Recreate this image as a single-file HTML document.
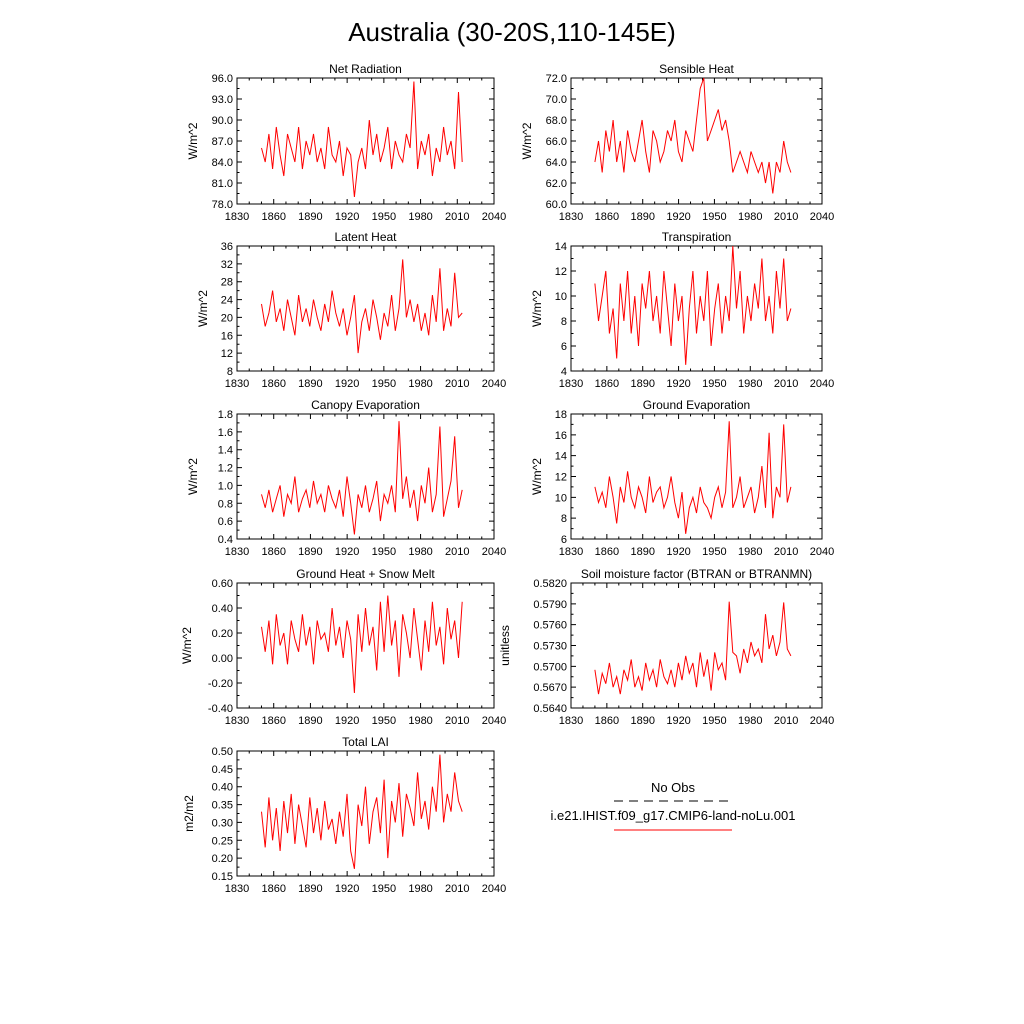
<!DOCTYPE html>
<html><head><meta charset="utf-8"><style>
body{margin:0;background:#fff;}
svg{display:block;font-family:"Liberation Sans",sans-serif;}
</style></head><body>
<svg id="chart" width="1024" height="1024" viewBox="0 0 1024 1024">
<text x="512" y="41" font-size="26" text-anchor="middle">Australia (30-20S,110-145E)</text>
<g>
<text x="673" y="792" font-size="13" text-anchor="middle">No Obs</text>
<line x1="614" y1="801" x2="732" y2="801" stroke="#000" stroke-width="1" stroke-dasharray="9,6"/>
<text x="673" y="820" font-size="13" text-anchor="middle">i.e21.IHIST.f09_g17.CMIP6-land-noLu.001</text>
<line x1="614" y1="830" x2="732" y2="830" stroke="#f00" stroke-width="1"/>
</g>
</svg>
<script>
const xTicks=[1830,1860,1890,1920,1950,1980,2010,2040];
const startYear=1850, endYear=2014;
const netRad=[86,84,88,83,89,85,82,88,86,84,89,83,87,85,88,84,86,83,89,85,84,87,82,86,85,79,84,86,83,90,85,88,84,86,89,83,87,85,84,88,86,95.5,83,87,85,88,82,86,84,89,85,87,83,94,84];
const sensHeat=[64,66,63,67,65,68,64,66,63,67,65,64,66,68,65,63,67,66,64,65,67,66,68,65,64,67,66,65,68,71,72,66,67,68,69,67,68,66,63,64,65,64,63,65,64,63,64,62,64,61,64,63,66,64,63];
const latHeat=[23,18,21,26,19,22,17,24,20,16,25,19,22,18,24,20,17,23,19,26,21,18,22,16,20,25,12,19,22,17,24,20,15,21,18,25,17,22,33,20,24,19,23,17,21,16,25,19,31,17,22,18,30,20,21];
const transp=[11,8,10,12,7,9,5,11,8,12,7,10,6,11,9,12,8,10,7,12,9,6,11,8,10,4.5,9,12,7,10,8,12,6,9,11,7,10,8,14,9,12,7,10,8,11,9,13,8,10,7,12,9,13,8,9];
const canEvap=[.9,.75,.95,.7,.85,1.0,.65,.9,.8,1.1,.7,.85,.95,.75,1.05,.8,.9,.7,1.0,.85,.75,.95,.65,1.1,.8,.45,.9,.75,1.0,.7,.85,1.05,.6,.9,.8,1.0,.7,1.72,.85,1.1,.75,.95,.6,1.0,.8,1.2,.7,.9,1.66,.65,.85,1.05,1.55,.75,.95];
const grdEvap=[11,9.5,10.5,9,12,10,7.5,11,9.5,12.5,10,9,11,10,8.5,12,9.5,10.5,11,9,10,12,9.5,8,10.5,6.5,9,10,8.5,11,9.5,9,8,10,11,9,10.5,17.3,9,10,12,9,10,11,8.5,10,13,9,16.2,8,11,10,17,9.5,11];
const grdHeat=[.25,.05,.3,-.05,.35,.1,.2,-.05,.3,.15,.05,.35,.1,.25,-.05,.3,.15,.2,.05,.4,.1,.25,0,.3,.15,-.28,.35,.05,.4,.1,.25,-.1,.45,.05,.5,.1,.3,-.15,.35,.2,0,.4,.15,-.1,.3,.05,.45,.1,.25,-.05,.4,.15,.3,0,.45];
const soilMoist=[.5695,.566,.569,.5675,.5705,.567,.5685,.566,.5695,.568,.571,.567,.5685,.5665,.5705,.568,.5695,.567,.571,.5685,.5675,.5695,.567,.5705,.568,.5715,.569,.5705,.567,.572,.5685,.571,.5665,.572,.5695,.5705,.568,.5793,.572,.5715,.569,.5725,.5705,.5735,.5715,.5725,.5705,.5775,.5725,.5745,.5715,.5735,.5792,.5725,.5715];
const totalLai=[.33,.23,.37,.25,.34,.22,.36,.27,.38,.24,.35,.29,.23,.37,.27,.34,.25,.36,.28,.31,.24,.33,.26,.38,.22,.17,.35,.29,.4,.24,.33,.37,.27,.42,.2,.36,.3,.41,.26,.38,.34,.29,.44,.31,.36,.28,.4,.33,.49,.3,.38,.33,.44,.36,.33];

const panels=[
 {name:'net-radiation',title:'Net Radiation',ylab:'W/m^2',vals:netRad,yt:[78,81,84,87,90,93,96],dec:1,x0:237,x1:494,y0:78,y1:204,yo:40},
 {name:'sensible-heat',title:'Sensible Heat',ylab:'W/m^2',vals:sensHeat,yt:[60,62,64,66,68,70,72],dec:1,x0:571,x1:822,y0:78,y1:204,yo:40},
 {name:'latent-heat',title:'Latent Heat',ylab:'W/m^2',vals:latHeat,yt:[8,12,16,20,24,28,32,36],dec:0,x0:237,x1:494,y0:246,y1:371,yo:30},
 {name:'transpiration',title:'Transpiration',ylab:'W/m^2',vals:transp,yt:[4,6,8,10,12,14],dec:0,x0:571,x1:822,y0:246,y1:371,yo:30},
 {name:'canopy-evaporation',title:'Canopy Evaporation',ylab:'W/m^2',vals:canEvap,yt:[0.4,0.6,0.8,1.0,1.2,1.4,1.6,1.8],dec:1,x0:237,x1:494,y0:414,y1:539,yo:40},
 {name:'ground-evaporation',title:'Ground Evaporation',ylab:'W/m^2',vals:grdEvap,yt:[6,8,10,12,14,16,18],dec:0,x0:571,x1:822,y0:414,y1:539,yo:30},
 {name:'ground-heat',title:'Ground Heat + Snow Melt',ylab:'W/m^2',vals:grdHeat,yt:[-0.4,-0.2,0,0.2,0.4,0.6],dec:2,x0:237,x1:494,y0:583,y1:708,yo:46},
 {name:'soil-moisture',title:'Soil moisture factor (BTRAN or BTRANMN)',ylab:'unitless',vals:soilMoist,yt:[0.564,0.567,0.570,0.573,0.576,0.579,0.582],dec:4,x0:571,x1:822,y0:583,y1:708,yo:62},
 {name:'total-lai',title:'Total LAI',ylab:'m2/m2',vals:totalLai,yt:[0.15,0.2,0.25,0.3,0.35,0.4,0.45,0.5],dec:2,x0:237,x1:494,y0:751,y1:876,yo:44}
];
const NS='http://www.w3.org/2000/svg';
const svg=document.getElementById('chart');
function mk(tag,attrs,parent){const e=document.createElementNS(NS,tag);for(const k in attrs)e.setAttribute(k,attrs[k]);parent.appendChild(e);return e;}
panels.forEach(p=>{
 const g=mk('g',{},svg);
 
 
 const ymin=p.yt[0],ymax=p.yt[p.yt.length-1];
 const sx=y=>p.x0+(y-1830)/(2040-1830)*(p.x1-p.x0);
 const sy=v=>p.y1-(v-ymin)/(ymax-ymin)*(p.y1-p.y0);
 const fr=mk('rect',{x:p.x0,y:p.y0,width:p.x1-p.x0,height:p.y1-p.y0,fill:'none',stroke:'#000','stroke-width':1},g);
 
 
 let d='';
 xTicks.forEach(t=>{const x=sx(t);d+=`M${x},${p.y1}v-5M${x},${p.y0}v5`;
   const tx=mk('text',{x:x,y:p.y1+16,'font-size':11,'text-anchor':'middle'},g);tx.textContent=t;
   
   });
 for(let t=1830;t<=2040;t+=10){const x=sx(t);d+=`M${x},${p.y1}v-2.5M${x},${p.y0}v2.5`;}
 p.yt.forEach((t,i)=>{const y=sy(t);d+=`M${p.x0},${y}h5M${p.x1},${y}h-5`;
   if(i<p.yt.length-1){const y2=sy((t+p.yt[i+1])/2);d+=`M${p.x0},${y2}h2.5M${p.x1},${y2}h-2.5`;}
   const tx=mk('text',{x:p.x0-4,y:y+4,'font-size':11,'text-anchor':'end'},g);tx.textContent=t.toFixed(p.dec);
   
   });
 const tk=mk('path',{d:d,stroke:'#000','stroke-width':1,fill:'none'},g);
 
 
 const tt=mk('text',{x:(p.x0+p.x1)/2,y:p.y0-5,'font-size':12,'text-anchor':'middle'},g);tt.textContent=p.title;
 
 
 const yx=p.x0-p.yo;
 const yl=mk('text',{x:yx,y:(p.y0+p.y1)/2,'font-size':12,'text-anchor':'middle',transform:`rotate(-90 ${yx} ${(p.y0+p.y1)/2})`},g);yl.textContent=p.ylab;
 
 
 const n=p.vals.length;
 const pts=p.vals.map((v,i)=>`${sx(startYear+i*(endYear-startYear)/(n-1)).toFixed(1)},${sy(v).toFixed(1)}`).join(' ');
 const ln=mk('polyline',{points:pts,fill:'none',stroke:'#f00','stroke-width':1},g);
 
 
});
</script>
</body></html>
